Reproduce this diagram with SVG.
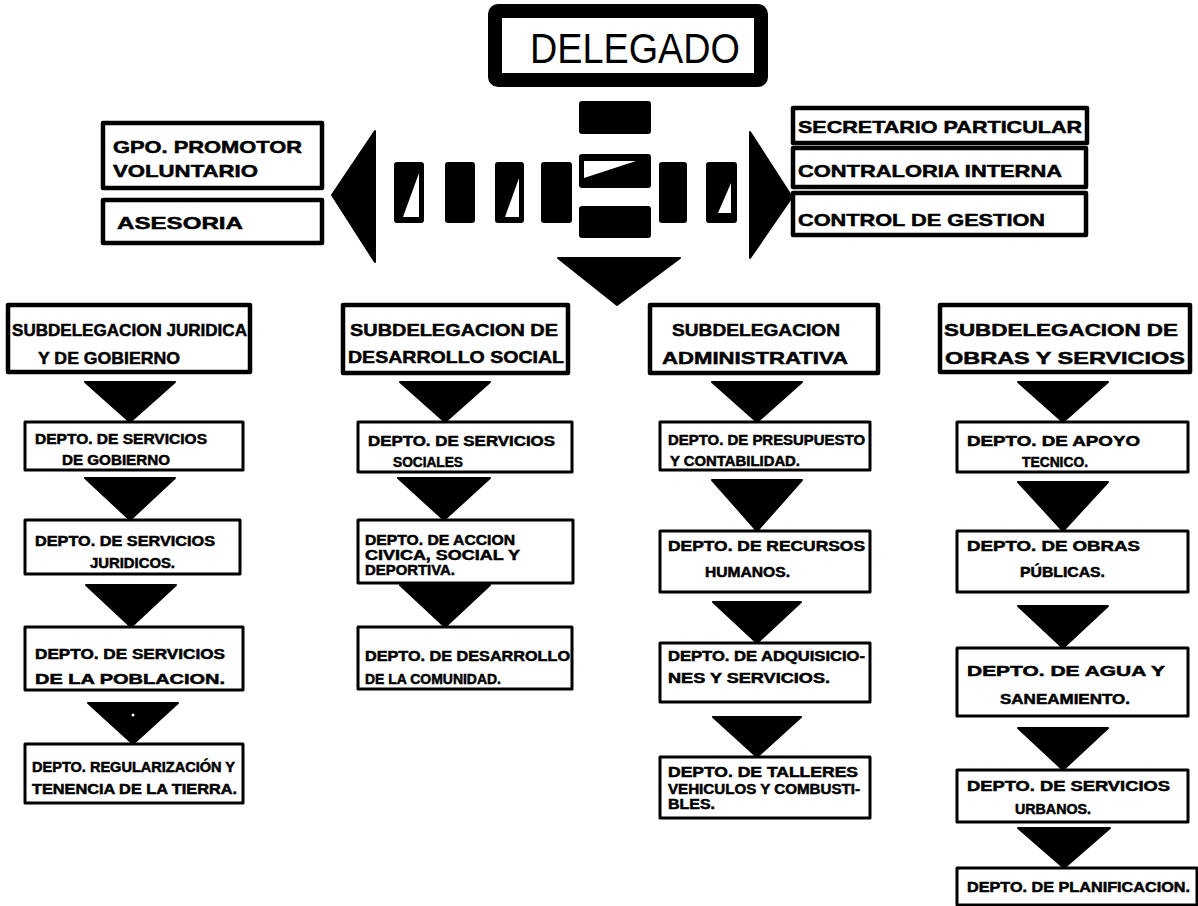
<svg xmlns="http://www.w3.org/2000/svg" width="1198" height="906" viewBox="0 0 1198 906">
<style>
.bg{fill:#fff}
.box{fill:#fff;stroke:#000;stroke-width:3;stroke-linejoin:round}
.sub{fill:#fff;stroke:#000;stroke-width:4.5;stroke-linejoin:round}
.t{font-family:"Liberation Sans","DejaVu Sans",sans-serif;font-weight:bold;fill:#000;stroke:#000;stroke-width:0.5}
.d{font-size:14px}
.s{font-size:17px}
.a{fill:#000;stroke:#000;stroke-width:2;stroke-linejoin:round}
.w{fill:#fff}
</style>
<rect class="bg" x="0" y="0" width="1198" height="906"/>

<g id="delegado">
<rect x="495" y="11" width="266" height="69" rx="3" fill="#fff" stroke="#000" stroke-width="14"/>
<text x="530" y="63" font-family="Liberation Sans, DejaVu Sans, sans-serif" font-size="42" textLength="210" lengthAdjust="spacingAndGlyphs">DELEGADO</text>
</g>

<g id="connectors">
<polygon class="a" points="332,195 375,131 375,262"/>
<polygon class="a" points="750,132 792,197 750,258"/>
<polygon class="a" points="558,258 680,258 617,305"/>
<rect class="a" x="580" y="102" width="70" height="31" rx="2"/>
<rect class="a" x="580" y="155" width="70" height="32" rx="2"/>
<polygon class="w" points="584,161 636,161 584,178"/>
<rect class="a" x="580" y="207" width="70" height="30" rx="2"/>
<rect class="a" x="395" y="163" width="28" height="59" rx="2"/>
<polygon class="w" points="419,173 403,217 419,217"/>
<rect class="a" x="446" y="163" width="28" height="59" rx="2"/>
<rect class="a" x="496" y="163" width="27" height="59" rx="2"/>
<polygon class="w" points="519,178 505,217 519,217"/>
<rect class="a" x="542" y="163" width="29" height="59" rx="2"/>
<rect class="a" x="660" y="163" width="26" height="59" rx="2"/>
<rect class="a" x="707" y="163" width="29" height="59" rx="2"/>
<polygon class="w" points="731,183 718,213 731,213"/>
<polygon class="a" points="85,382 175,382 130,422"/>
<polygon class="a" points="85,478 175,478 130,520"/>
<polygon class="a" points="86,585 176,585 131,627"/>
<polygon class="a" points="88,703 178,703 133,744"/>
<circle cx="133" cy="715" r="1.5" fill="#fff"/>
<polygon class="a" points="400,382 490,382 445,422"/>
<polygon class="a" points="398,478 490,478 444,520"/>
<polygon class="a" points="400,585 490,585 445,627"/>
<polygon class="a" points="712,382 802,382 757,422"/>
<polygon class="a" points="712,480 802,480 757,531"/>
<polygon class="a" points="713,602 801,602 757,643"/>
<polygon class="a" points="713,717 801,717 757,757"/>
<polygon class="a" points="1018,382 1108,382 1063,422"/>
<polygon class="a" points="1018,482 1108,482 1063,531"/>
<polygon class="a" points="1018,606 1108,606 1063,648"/>
<polygon class="a" points="1018,728 1108,728 1063,770"/>
<polygon class="a" points="1018,828 1110,828 1064,868"/>
</g>

<g id="gpo"><rect class="sub" x="103" y="123" width="219" height="65"/>
<text class="t s" x="113" y="153" textLength="189" lengthAdjust="spacingAndGlyphs">GPO. PROMOTOR</text>
<text class="t s" x="113" y="177" textLength="145" lengthAdjust="spacingAndGlyphs">VOLUNTARIO</text></g>
<g id="asesoria"><rect class="sub" x="103" y="200" width="219" height="43"/>
<text class="t s" x="117" y="229" textLength="126" lengthAdjust="spacingAndGlyphs">ASESORIA</text></g>

<g id="secretario"><rect class="sub" x="793" y="108" width="294" height="35"/>
<text class="t s" x="798" y="133" textLength="284" lengthAdjust="spacingAndGlyphs">SECRETARIO PARTICULAR</text></g>
<g id="contraloria"><rect class="sub" x="793" y="148" width="293" height="39"/>
<text class="t s" x="798" y="177" textLength="264" lengthAdjust="spacingAndGlyphs">CONTRALORIA INTERNA</text></g>
<g id="control"><rect class="sub" x="793" y="193" width="293" height="42"/>
<text class="t s" x="798" y="226" textLength="247" lengthAdjust="spacingAndGlyphs">CONTROL DE GESTION</text></g>

<g id="sub-juridica"><rect class="sub" x="8" y="305" width="242" height="67"/>
<text class="t s" x="12" y="336" textLength="235" lengthAdjust="spacingAndGlyphs">SUBDELEGACION JURIDICA</text>
<text class="t s" x="38" y="364" textLength="142" lengthAdjust="spacingAndGlyphs">Y DE GOBIERNO</text></g>
<g id="sub-social"><rect class="sub" x="343" y="305" width="225" height="68"/>
<text class="t s" x="350" y="336" textLength="208" lengthAdjust="spacingAndGlyphs">SUBDELEGACION DE</text>
<text class="t s" x="348" y="363" textLength="216" lengthAdjust="spacingAndGlyphs">DESARROLLO SOCIAL</text></g>
<g id="sub-admin"><rect class="sub" x="650" y="305" width="228" height="68"/>
<text class="t s" x="672" y="336" textLength="168" lengthAdjust="spacingAndGlyphs">SUBDELEGACION</text>
<text class="t s" x="662" y="364" textLength="186" lengthAdjust="spacingAndGlyphs">ADMINISTRATIVA</text></g>
<g id="sub-obras"><rect class="sub" x="940" y="305" width="250" height="67"/>
<text class="t s" x="944" y="336" textLength="234" lengthAdjust="spacingAndGlyphs">SUBDELEGACION DE</text>
<text class="t s" x="945" y="364" textLength="240" lengthAdjust="spacingAndGlyphs">OBRAS Y SERVICIOS</text></g>

<g id="c1d1"><rect class="box" x="25" y="422" width="218" height="48"/>
<text class="t d" x="35" y="444" textLength="172" lengthAdjust="spacingAndGlyphs">DEPTO. DE SERVICIOS</text>
<text class="t d" x="62" y="465" textLength="108" lengthAdjust="spacingAndGlyphs">DE GOBIERNO</text></g>
<g id="c1d2"><rect class="box" x="25" y="520" width="215" height="54"/>
<text class="t d" x="35" y="546" textLength="180" lengthAdjust="spacingAndGlyphs">DEPTO. DE SERVICIOS</text>
<text class="t d" x="90" y="568" textLength="85" lengthAdjust="spacingAndGlyphs">JURIDICOS.</text></g>
<g id="c1d3"><rect class="box" x="25" y="627" width="218" height="63"/>
<text class="t d" x="35" y="659" textLength="190" lengthAdjust="spacingAndGlyphs">DEPTO. DE SERVICIOS</text>
<text class="t d" x="35" y="684" textLength="190" lengthAdjust="spacingAndGlyphs">DE LA POBLACION.</text></g>
<g id="c1d4"><rect class="box" x="25" y="744" width="218" height="59"/>
<text class="t d" x="32" y="772" textLength="203" lengthAdjust="spacingAndGlyphs">DEPTO. REGULARIZACIÓN Y</text>
<text class="t d" x="32" y="794" textLength="205" lengthAdjust="spacingAndGlyphs">TENENCIA DE LA TIERRA.</text></g>

<g id="c2d1"><rect class="box" x="358" y="422" width="214" height="50"/>
<text class="t d" x="368" y="446" textLength="187" lengthAdjust="spacingAndGlyphs">DEPTO. DE SERVICIOS</text>
<text class="t d" x="393" y="467" textLength="70" lengthAdjust="spacingAndGlyphs">SOCIALES</text></g>
<g id="c2d2"><rect class="box" x="358" y="520" width="215" height="63"/>
<text class="t d" x="365" y="545" textLength="150" lengthAdjust="spacingAndGlyphs">DEPTO. DE ACCION</text>
<text class="t d" x="365" y="560" textLength="155" lengthAdjust="spacingAndGlyphs">CIVICA, SOCIAL Y</text>
<text class="t d" x="365" y="575" textLength="90" lengthAdjust="spacingAndGlyphs">DEPORTIVA.</text></g>
<g id="c2d3"><rect class="box" x="358" y="627" width="214" height="62"/>
<text class="t d" x="365" y="661" textLength="205" lengthAdjust="spacingAndGlyphs">DEPTO. DE DESARROLLO</text>
<text class="t d" x="365" y="684" textLength="136" lengthAdjust="spacingAndGlyphs">DE LA COMUNIDAD.</text></g>

<g id="c3d1"><rect class="box" x="660" y="422" width="210" height="48"/>
<text class="t d" x="668" y="445" textLength="197" lengthAdjust="spacingAndGlyphs">DEPTO. DE PRESUPUESTO</text>
<text class="t d" x="670" y="466" textLength="130" lengthAdjust="spacingAndGlyphs">Y CONTABILIDAD.</text></g>
<g id="c3d2"><rect class="box" x="660" y="531" width="210" height="61"/>
<text class="t d" x="668" y="551" textLength="197" lengthAdjust="spacingAndGlyphs">DEPTO. DE RECURSOS</text>
<text class="t d" x="705" y="577" textLength="85" lengthAdjust="spacingAndGlyphs">HUMANOS.</text></g>
<g id="c3d3"><rect class="box" x="660" y="643" width="210" height="59"/>
<text class="t d" x="668" y="661" textLength="197" lengthAdjust="spacingAndGlyphs">DEPTO. DE ADQUISICIO-</text>
<text class="t d" x="668" y="683" textLength="162" lengthAdjust="spacingAndGlyphs">NES Y SERVICIOS.</text></g>
<g id="c3d4"><rect class="box" x="660" y="757" width="210" height="61"/>
<text class="t d" x="668" y="777" textLength="190" lengthAdjust="spacingAndGlyphs">DEPTO. DE TALLERES</text>
<text class="t d" x="668" y="794" textLength="192" lengthAdjust="spacingAndGlyphs">VEHICULOS Y COMBUSTI-</text>
<text class="t d" x="668" y="809" textLength="47" lengthAdjust="spacingAndGlyphs">BLES.</text></g>

<g id="c4d1"><rect class="box" x="957" y="422" width="231" height="50"/>
<text class="t d" x="967" y="446" textLength="173" lengthAdjust="spacingAndGlyphs">DEPTO. DE APOYO</text>
<text class="t d" x="1022" y="467" textLength="66" lengthAdjust="spacingAndGlyphs">TECNICO.</text></g>
<g id="c4d2"><rect class="box" x="957" y="531" width="231" height="61"/>
<text class="t d" x="967" y="551" textLength="173" lengthAdjust="spacingAndGlyphs">DEPTO. DE OBRAS</text>
<text class="t d" x="1020" y="577" textLength="85" lengthAdjust="spacingAndGlyphs">PÚBLICAS.</text></g>
<g id="c4d3"><rect class="box" x="957" y="648" width="231" height="68"/>
<text class="t d" x="967" y="676" textLength="198" lengthAdjust="spacingAndGlyphs">DEPTO. DE AGUA Y</text>
<text class="t d" x="1000" y="704" textLength="130" lengthAdjust="spacingAndGlyphs">SANEAMIENTO.</text></g>
<g id="c4d4"><rect class="box" x="957" y="770" width="231" height="52"/>
<text class="t d" x="967" y="791" textLength="203" lengthAdjust="spacingAndGlyphs">DEPTO. DE SERVICIOS</text>
<text class="t d" x="1015" y="814" textLength="76" lengthAdjust="spacingAndGlyphs">URBANOS.</text></g>
<g id="c4d5"><rect class="box" x="957" y="868" width="240" height="37"/>
<text class="t d" x="967" y="892" textLength="223" lengthAdjust="spacingAndGlyphs">DEPTO. DE PLANIFICACION.</text></g>
</svg>
